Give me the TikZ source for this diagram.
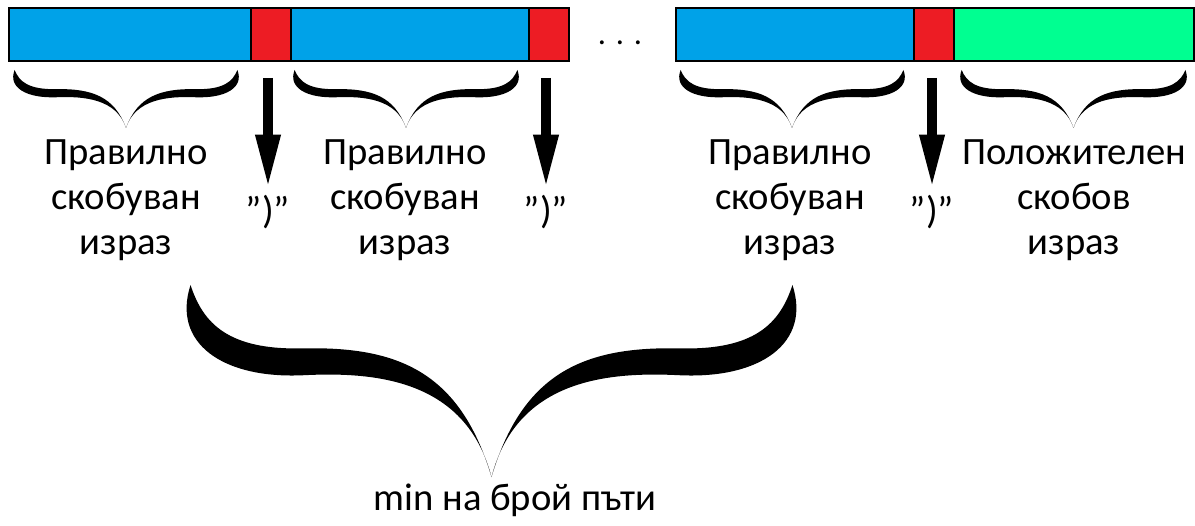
\documentclass[tikz,border=0pt]{standalone}
\usepackage{fontspec}
\setmainfont{Carlito}
\usetikzlibrary{arrows.meta}
\usetikzlibrary{positioning}

\definecolor{segblue}{RGB}{0,162,232}
\definecolor{segred}{RGB}{237,28,36}
\definecolor{seggreen}{RGB}{0,255,145}

% one half of a tapered brace, unit box, y pointing down
\newcommand{\HalfBrace}[1][]{%
  \fill[#1] (0.02,0) .. controls (-0.01,0.3) and (0.07,0.49) .. (0.2,0.47)
    .. controls (0.32,0.45) and (0.46,0.5) .. (0.5,1)
    .. controls (0.45,0.45) and (0.35,0.32) .. (0.2,0.33)
    .. controls (0.08,0.34) and (0.04,0.2) .. (0.02,0) -- cycle;}
% #1,#2 = left/right x, #3 = top y, #4 = tip y
\newcommand{\UnderBrace}[4]{%
  \begin{scope}[shift={(#1,#3)}, xscale={#2-#1}, yscale={#4-#3}]
    \HalfBrace
    \HalfBrace[shift={(1,0)}, xscale=-1]
  \end{scope}}

\begin{document}
\begin{tikzpicture}[x=0.02cm, y=-0.02cm,
  seg/.style={draw=black, line width=1.4pt, anchor=north west, inner sep=0pt, minimum height=1.06cm},
  lbl/.style={align=center, font=\fontsize{22}{25.6}\selectfont},
  arr/.style={line width=5.7pt, -{Triangle[length=31pt, width=13pt]}}]
\useasboundingbox (0,0) rectangle (1195,526);

% top bars
\foreach \x/\w/\c/\n in {8/242/segblue/b1, 250/40/segred/r1, 290/238/segblue/b2, 528/40/segred/r2,
                         675/238/segblue/b3, 913/40/segred/r3, 953/240/seggreen/g1}
{
  \node[seg, fill=\c, minimum width=\w*0.02cm] (\n) at (\x,7) {};
}
\node[lbl, anchor=base, font=\fontsize{18.5}{22}\selectfont] (dots) at (620,45) {. . .};

% small braces
\UnderBrace{10}{242}{70}{128}
\UnderBrace{290}{522}{70}{128}
\UnderBrace{676}{908}{70}{128}
\UnderBrace{957}{1190}{70}{128}

% texts under the braces
\node[lbl] (t1) at (126,200) {Правилно\\скобуван\\израз};
\node[lbl] (t2) at (405,200) {Правилно\\скобуван\\израз};
\node[lbl] (t3) at (790,200) {Правилно\\скобуван\\израз};
\node[lbl] (t4) at (1074,200) {Положителен\\скобов\\израз};

% closing brackets
\foreach \n/\x in {1/268, 2/546, 3/932}
{
  \coordinate (a\n) at (\x,78);
  \node[lbl] (q\n) at (\x,212) {\symbol{34})\symbol{34}};
  \draw[arr] (a\n) -- (q\n.north);
}

% big brace
\UnderBrace{178}{805}{285}{477}
\node[lbl] (sum) at (515,500) {min на брой пъти};

\end{tikzpicture}
\end{document}
